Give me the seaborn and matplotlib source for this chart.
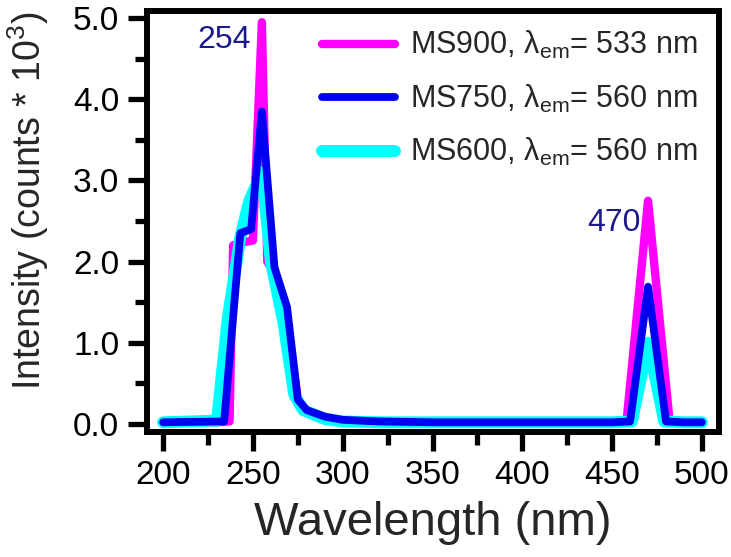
import pandas as pd
import seaborn as sns
import matplotlib.pyplot as plt
from matplotlib.ticker import MultipleLocator

# excitation spectra (intensity in counts * 10^3)
wl_ms900 = [200, 230, 237, 239, 245, 250, 255, 258, 262, 268, 275, 280, 290, 300, 320,
            350, 400, 450, 458, 470, 482, 490, 500]
int_ms900 = [0.02, 0.02, 0.03, 2.2, 2.24, 2.26, 4.95, 2.0, 1.85, 1.45, 0.3, 0.15, 0.07, 0.04, 0.02,
             0.02, 0.02, 0.02, 0.03, 2.75, 0.03, 0.02, 0.02]

wl_ms750 = [200, 234, 243, 249, 255, 262, 269, 275, 280, 290, 300, 320, 350, 400, 450,
            460, 470, 480, 490, 500]
int_ms750 = [0.02, 0.03, 2.35, 2.4, 3.85, 1.93, 1.44, 0.3, 0.17, 0.09, 0.05, 0.03, 0.02, 0.02, 0.02,
             0.03, 1.69, 0.03, 0.02, 0.02]

wl_ms600 = [200, 230, 236, 243, 248, 255, 260, 267, 273, 278, 290, 300, 320, 350, 400,
            450, 461, 470, 479, 490, 500]
int_ms600 = [0.02, 0.04, 1.3, 2.3, 2.75, 3.1, 2.0, 1.25, 0.36, 0.17, 0.06, 0.03, 0.02, 0.02, 0.02,
             0.02, 0.03, 1.0, 0.03, 0.02, 0.02]

labels = ["MS900, λ$_{\\mathrm{em}}$= 533 nm",
          "MS750, λ$_{\\mathrm{em}}$= 560 nm",
          "MS600, λ$_{\\mathrm{em}}$= 560 nm"]
colors = ["#FF00FF", "#0000F0", "#00FFFF"]
widths = [6.0, 5.6, 8.6]
zorders = [2, 4, 3]

sns.set_style("ticks")
plt.rcParams['font.family'] = ['Liberation Sans', 'DejaVu Sans']
plt.rcParams['mathtext.fontset'] = 'custom'
plt.rcParams['mathtext.rm'] = 'Liberation Sans'
plt.rcParams['mathtext.it'] = 'Liberation Sans:italic'

fig = plt.figure(figsize=(7.31, 5.57), dpi=100)
ax = fig.add_axes([0.201, 0.2244, 0.7826, 0.7556])

series = [(wl_ms900, int_ms900), (wl_ms750, int_ms750), (wl_ms600, int_ms600)]
for (wl, inten), lab, c, lw, z in zip(series, labels, colors, widths, zorders):
    df = pd.DataFrame({"wl": wl, "I": inten})
    sns.lineplot(data=df, x="wl", y="I", ax=ax, color=c, linewidth=lw, label=lab,
                 zorder=z, solid_capstyle="round", solid_joinstyle="round", sort=False)

ax.set_xlim(191, 509.5)
ax.set_ylim(-0.1, 5.086)
ax.xaxis.set_major_locator(MultipleLocator(50))
ax.xaxis.set_minor_locator(MultipleLocator(25))
ax.yaxis.set_major_locator(MultipleLocator(1.0))
ax.yaxis.set_minor_locator(MultipleLocator(0.5))
ax.yaxis.set_major_formatter(plt.FormatStrFormatter("%.1f"))

for s in ax.spines.values():
    s.set_linewidth(4.3)
    s.set_color("black")
ax.tick_params(which="major", direction="out", length=14, width=3.8, labelsize=24, pad=6,
               color="black", labelcolor="black")
ax.tick_params(which="minor", direction="out", length=9, width=3.8, color="black")

ax.set_xlabel("Wavelength (nm)", fontsize=34, labelpad=7)
ax.set_ylabel("Intensity (counts * 10$^{3}$)", fontsize=27)
ax.yaxis.set_label_coords(-0.168, 0.55)

ax.text(249, 4.73, "254", color="#1A1A8C", fontsize=23, ha="right", va="center")
ax.text(466, 2.47, "470", color="#1A1A8C", fontsize=23, ha="right", va="center")

leg = ax.legend(loc="upper right", bbox_to_anchor=(0.963, 0.957), frameon=False, fontsize=22,
                handlelength=2.4, handletextpad=0.5, labelspacing=0.7,
                borderpad=0, borderaxespad=0)
for h in leg.get_lines():
    h.set_solid_capstyle("round")

fig.savefig("out.png", dpi=100)
